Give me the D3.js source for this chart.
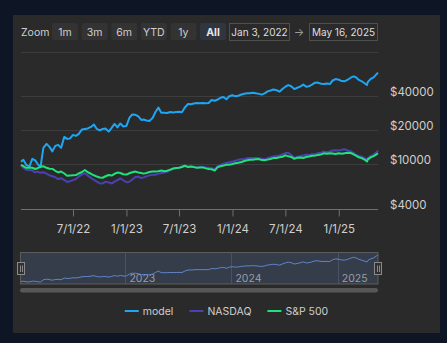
<!DOCTYPE html>
<html>
<head>
<meta charset="utf-8">
<script src="https://cdn.jsdelivr.net/npm/d3@7"></script>
<style>
  body { margin: 0; background: #0e1626; }
  svg { display: block; font-family: Inter, "Noto Sans", sans-serif; }
</style>
</head>
<body>
<svg id="chart" width="447" height="343"></svg>
<script>
// DATA (roughly every 10 days)
const dates = [
  "2022-01-03","2022-01-11","2022-01-21","2022-02-01","2022-02-11","2022-02-21","2022-03-01","2022-03-11","2022-03-21",
  "2022-04-01","2022-04-11","2022-04-21","2022-05-01","2022-05-11","2022-05-21","2022-06-01","2022-06-11","2022-06-21",
  "2022-07-01","2022-07-11","2022-07-21","2022-08-01","2022-08-11","2022-08-21","2022-09-01","2022-09-11","2022-09-21",
  "2022-10-01","2022-10-11","2022-10-21","2022-11-01","2022-11-11","2022-11-21","2022-12-01","2022-12-11","2022-12-21",
  "2023-01-01","2023-01-11","2023-01-21","2023-02-01","2023-02-11","2023-02-21","2023-03-01","2023-03-11","2023-03-21",
  "2023-04-01","2023-04-11","2023-04-21","2023-05-01","2023-05-11","2023-05-21","2023-06-01","2023-06-11","2023-06-21",
  "2023-07-01","2023-07-11","2023-07-21","2023-08-01","2023-08-11","2023-08-21","2023-09-01","2023-09-11","2023-09-21",
  "2023-10-01","2023-10-11","2023-10-21","2023-11-01","2023-11-11","2023-11-21","2023-12-01","2023-12-11","2023-12-21",
  "2024-01-01","2024-01-11","2024-01-21","2024-02-01","2024-02-11","2024-02-21","2024-03-01","2024-03-11","2024-03-21",
  "2024-04-01","2024-04-11","2024-04-21","2024-05-01","2024-05-11","2024-05-21","2024-06-01","2024-06-11","2024-06-21",
  "2024-07-01","2024-07-11","2024-07-21","2024-08-01","2024-08-11","2024-08-21","2024-09-01","2024-09-11","2024-09-21",
  "2024-10-01","2024-10-11","2024-10-21","2024-11-01","2024-11-11","2024-11-21","2024-12-01","2024-12-11","2024-12-21",
  "2025-01-01","2025-01-11","2025-01-21","2025-02-01","2025-02-11","2025-02-21","2025-03-01","2025-03-11","2025-03-21",
  "2025-04-01","2025-04-08","2025-04-11","2025-04-21","2025-05-01","2025-05-11","2025-05-16"
];

const modelValues = [
  10630,11080,10000,9700,11300,10960,10210,9500,14150,15360,14440,13180,14740,15050,14150,17720,17010,17190,
  18460,18090,18840,20650,20870,21080,21740,22880,20870,20240,20870,21080,19750,21300,23110,21520,23350,21960,
  22180,26120,28060,27900,26940,25080,25340,24820,24570,26120,29530,32380,29110,29050,28930,29530,29230,29530,
  29700,29400,32380,34770,34560,35130,35490,35300,35500,35400,35490,37740,37200,38120,39550,40120,38280,40780,
  41620,40700,41200,42220,42920,43270,43300,43810,43360,42830,42140,43270,45080,45910,46860,46100,44800,47340,
  49620,51270,50030,47250,48520,49720,51800,49520,50130,51800,53840,53950,52750,52540,52860,52330,56320,57960,
  57250,55640,55410,57250,59640,61370,60250,57020,55410,53000,51270,54740,58200,60120,64190,66190
];

const nasdaqValues = [
  10000,9410,9030,8970,8880,8560,8700,8490,8580,8350,8070,7920,7750,7470,7600,7320,7040,7150,
  7300,7480,7860,8220,8410,8020,7650,7330,7070,6850,6830,7070,6970,6810,7070,7320,7570,7290,
  6990,7070,7390,7790,7840,7620,7730,7890,8050,8150,8170,8300,8440,8530,8670,8960,9220,9350,
  9410,9680,9800,9660,9620,9560,9440,9540,9540,9480,9410,9330,9160,9740,10000,10250,10380,10520,
  10680,10850,11080,11190,11280,11420,11470,11480,11490,11420,11300,11190,11440,11660,11870,11970,12140,12370,
  12680,12780,12270,11490,11780,11920,12120,12270,12250,12390,12440,12680,12830,13100,12940,13150,13420,13500,
  13390,13590,13750,13420,13200,12700,12270,11970,11820,11420,11240,11490,11940,12270,12970,13390
];

const spValues = [
  10000,9740,9410,9440,9410,9180,9330,9600,9700,9410,9220,9200,8850,8550,8720,8370,7990,8050,
  8070,8100,8370,8630,8990,8580,8320,8070,7860,7700,7670,7910,8120,8020,8320,8530,8460,8240,
  8190,8410,8580,8700,8530,8440,8350,8460,8630,8720,8700,8760,8900,8760,8850,9070,9270,9350,
  9410,9560,9800,9540,9640,9540,9410,9480,9480,9290,9160,9120,8880,9540,9720,9840,10000,10020,
  10160,10310,10420,10590,10810,10960,11080,11100,11210,11240,11010,10960,11120,11280,11470,11490,11680,11780,
  12140,11900,11760,11300,11580,11630,11510,11730,11850,12020,12070,12240,12370,12650,12570,12650,12620,12470,
  12680,12520,12680,12830,12730,12390,12070,11660,11470,11080,10700,11190,11660,11940,12390,12700
];

const seriesNames = ["model", "NASDAQ", "S&P 500"];
const seriesColors = ["#1ea6f2", "#4b40b4", "#1ee27a"];
const yTicks = [4000, 10000, 20000, 40000];
const yGrid = [10000, 20000, 40000, 100000];
const xTicks = ["2022-07-01","2023-01-01","2023-07-01","2024-01-01","2024-07-01","2025-01-01"];
const navYears = ["2023-01-01","2024-01-01","2025-01-01"];
const zoomButtons = ["1m", "3m", "6m", "YTD", "1y", "All"];
const rangeFrom = "Jan 3, 2022";
const rangeTo = "May 16, 2025";

const parse = d3.utcParse("%Y-%m-%d");
const t = dates.map(parse);
const series = [modelValues, nasdaqValues, spValues];

const svg = d3.select("#chart");

// panel
svg.append("rect").attr("x", 13).attr("y", 15).attr("width", 427).attr("height", 318).attr("fill", "#2a2a2a");

// SCALES
const plot = { left: 21, right: 378, top: 52.5, bottom: 209.5 };
const x = d3.scaleUtc().domain([t[0], t[t.length - 1]]).range([plot.left, plot.right]);
const y = d3.scaleLog().domain([4000, 100000]).range([plot.bottom, plot.top]);
const crisp = v => Math.round(v) - 0.5;

// gridlines
svg.append("g").selectAll("line").data(yGrid).join("line")
  .attr("x1", plot.left).attr("x2", plot.right)
  .attr("y1", d => crisp(y(d))).attr("y2", d => crisp(y(d)))
  .attr("stroke", "#3d3d3d").attr("stroke-width", 1);

// y labels (right side)
svg.append("g").selectAll("text").data(yTicks).join("text")
  .attr("x", 390).attr("y", d => crisp(y(d)) - 0.5)
  .attr("fill", "#cfcfcf").attr("font-size", 11.5)
  .text(d => "$" + d);

// x axis
const xAxis = svg.append("g").attr("transform", `translate(0,${crisp(plot.bottom)})`)
  .call(d3.axisBottom(x).tickValues(xTicks.map(parse)).tickSize(7).tickPadding(8)
    .tickFormat(d3.utcFormat("%-m/%-d/%y")));
xAxis.select(".domain").attr("stroke", "#707070").attr("d", `M${plot.left},0H${plot.right}`);
xAxis.selectAll(".tick line").attr("stroke", "#707070");
xAxis.selectAll(".tick text").attr("fill", "#cfcfcf").attr("font-size", 11.5)
  .attr("font-family", "Inter, 'Noto Sans', sans-serif");

// lines
const line = d3.line().x((d, i) => x(t[i])).y(d => y(d));
svg.append("g").selectAll("path").data(series).join("path")
  .attr("fill", "none")
  .attr("stroke", (d, i) => seriesColors[i])
  .attr("stroke-width", 2)
  .attr("stroke-linejoin", "round")
  .attr("d", line);

// RANGE SELECTOR
svg.append("text").attr("x", 21).attr("y", 35.5).attr("fill", "#cfcfcf").attr("font-size", 10.5).text("Zoom");
const btn = svg.append("g").selectAll("g").data(zoomButtons).join("g")
  .attr("transform", (d, i) => `translate(${52 + i * 29.6},23)`);
btn.append("rect").attr("width", 26).attr("height", 17).attr("rx", 2)
  .attr("fill", d => d === "All" ? "#30363f" : "#333333");
btn.append("text").attr("x", 13).attr("y", 12.5).attr("text-anchor", "middle")
  .attr("font-size", 10.5)
  .attr("font-weight", d => d === "All" ? "bold" : "normal")
  .attr("fill", d => d === "All" ? "#e6e6e6" : "#cfcfcf")
  .text(d => d);

const inputs = [{ x: 229.5, w: 60, text: rangeFrom }, { x: 309.5, w: 68, text: rangeTo }];
const inp = svg.append("g").selectAll("g").data(inputs).join("g");
inp.append("rect").attr("x", d => d.x).attr("y", 23.5).attr("width", d => d.w).attr("height", 17)
  .attr("fill", "none").attr("stroke", "#4f4f4f");
inp.append("text").attr("x", d => d.x + d.w / 2).attr("y", 35.5).attr("text-anchor", "middle")
  .attr("font-size", 10).attr("fill", "#dedede").text(d => d.text);
svg.append("text").attr("x", 299).attr("y", 35.5).attr("text-anchor", "middle")
  .attr("font-size", 11).attr("fill", "#9a9a9a").text("→");

// NAVIGATOR
const nav = { top: 252.5, bottom: 284 };
svg.append("rect").attr("x", 20.5).attr("y", nav.top).attr("width", plot.right - 20.5).attr("height", nav.bottom - nav.top)
  .attr("fill", "#353c4a").attr("stroke", "#5c5c5c");
svg.append("g").selectAll("line").data(navYears.map(parse)).join("line")
  .attr("x1", d => crisp(x(d))).attr("x2", d => crisp(x(d)))
  .attr("y1", nav.top).attr("y2", nav.bottom)
  .attr("stroke", "#4a5262");
svg.append("g").selectAll("text").data(navYears.map(parse)).join("text")
  .attr("x", d => x(d) + 3).attr("y", 282)
  .attr("fill", "#9a9ea6").attr("font-size", 10.5)
  .text(d => d.getUTCFullYear());
const yNav = d3.scaleLinear().domain(d3.extent(modelValues)).range([282, 255]);
svg.append("path").datum(modelValues)
  .attr("fill", "none").attr("stroke", "#5f86cc").attr("stroke-width", 1)
  .attr("d", d3.line().x((d, i) => x(t[i])).y(d => yNav(d)));

// handles
const handles = svg.append("g").selectAll("g").data([20.5, plot.right]).join("g")
  .attr("transform", d => `translate(${Math.round(d)},0)`);
handles.append("rect").attr("x", -3.5).attr("y", 262.5).attr("width", 7).attr("height", 12)
  .attr("fill", "#303030").attr("stroke", "#8a8a8a");
handles.selectAll("line").data([-1, 1]).join("line")
  .attr("x1", d => d + 0.5).attr("x2", d => d + 0.5).attr("y1", 265.5).attr("y2", 272)
  .attr("stroke", "#8a8a8a");

// scrollbar
svg.append("rect").attr("x", 20).attr("y", 288).attr("width", plot.right - 20).attr("height", 4.5)
  .attr("rx", 2.2).attr("fill", "#575757");

// LEGEND
const legend = svg.append("g");
const items = legend.selectAll("g").data(seriesNames).join("g");
items.append("line").attr("x1", 0).attr("x2", 14).attr("y1", 311).attr("y2", 311)
  .attr("stroke", (d, i) => seriesColors[i]).attr("stroke-width", 2);
items.append("text").attr("x", 18).attr("y", 315).attr("font-size", 10.5).attr("fill", "#cfcfcf").text(d => d);
let cx = 0;
items.each(function () {
  const w = 18 + this.querySelector("text").getComputedTextLength();
  d3.select(this).attr("transform", `translate(${cx},0)`);
  cx += w + 16;
});
const total = cx - 16;
legend.attr("transform", `translate(${226.5 - total / 2},0)`);
</script>
</body>
</html>
